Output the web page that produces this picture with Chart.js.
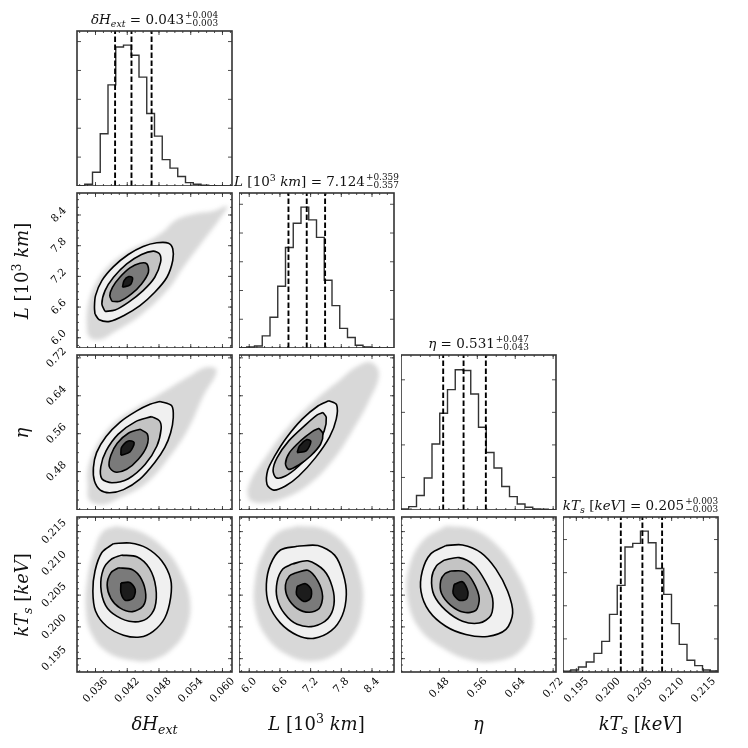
<!DOCTYPE html>
<html>
<head>
<meta charset="utf-8">
<title>corner plot</title>
<script src="https://cdn.jsdelivr.net/npm/chart.js@4.4.1/dist/chart.umd.min.js"></script>
<style>
  body { margin: 0; background: #fff; }
  #wrap { position: relative; width: 748px; height: 748px; overflow: hidden; font-family: "DejaVu Serif", serif; color: #111; }
  #wrap canvas { position: absolute; }
  .cloud { position: absolute; overflow: hidden; }
  .cloud canvas { filter: blur(2.2px); left: 0; top: 0; }
  .txt { position: absolute; white-space: nowrap; transform: translate(-50%, -50%); line-height: 1; }
  .axl { font-size: 18px; }
  .rot { transform: translate(-50%, -50%) rotate(-90deg); }
  .ttl { font-size: 13.5px; transform: translate(-50%, -100%); line-height: 1.15; }
  sub, sup { font-size: 0.7em; line-height: 0; }
  sub { vertical-align: -0.3em; }
  sup { vertical-align: 0.55em; }
  .pm { display: inline-flex; flex-direction: column; font-size: 0.66em; line-height: 0.85; vertical-align: 0.75em; margin-left: 1px; }
</style>
</head>
<body>
<div id="wrap"></div>
<script>
// axis ranges and tick labels: dH_ext, L [10^3 km], eta, kT_s [keV]
const ranges = [[0.0325, 0.0618], [5.80, 8.83], [0.399, 0.726], [0.1929, 0.2173]];
const tickLabels = [
  ['0.036', '0.042', '0.048', '0.054', '0.060'],
  ['6.0', '6.6', '7.2', '7.8', '8.4'],
  ['0.48', '0.56', '0.64', '0.72'],
  ['0.195', '0.200', '0.205', '0.210', '0.215']
];
const minorSteps = [0.0015, 0.15, 0.02, 0.001];

// 1D histograms, 20 bins over each range (relative to peak)
const histDH = [0.002, 0.012, 0.098, 0.371, 0.718, 0.986, 1.0, 0.928, 0.773, 0.514, 0.354, 0.187, 0.127, 0.067, 0.024, 0.012, 0.005, 0.002, 0.001, 0.0];
const histL = [0.002, 0.007, 0.014, 0.086, 0.218, 0.438, 0.713, 0.885, 1.0, 0.909, 0.785, 0.481, 0.301, 0.139, 0.074, 0.019, 0.007, 0.003, 0.001, 0.0];
const histEta = [0.007, 0.024, 0.103, 0.227, 0.468, 0.687, 0.854, 0.995, 0.99, 0.823, 0.587, 0.408, 0.298, 0.167, 0.095, 0.043, 0.019, 0.007, 0.005, 0.002];
const histKT = [0.005, 0.014, 0.035, 0.071, 0.132, 0.217, 0.409, 0.615, 0.887, 0.913, 1.0, 0.917, 0.735, 0.551, 0.343, 0.196, 0.083, 0.045, 0.014, 0.007];
const histTickSteps = [0.205, 0.204, 0.231, 0.235];

// 16/50/84 % quantiles
const quantDH = [0.0397, 0.0428, 0.0466];
const quantL = [6.767, 7.124, 7.483];
const quantEta = [0.488, 0.531, 0.578];
const quantKT = [0.2020, 0.2054, 0.2085];

// 2D panels: extent of the sample cloud and the four contour levels
const cloud_dH_L = [[0.0343,6.333],[0.0348,6.020],[0.0369,5.967],[0.0397,6.124],[0.0444,6.432],[0.0495,6.922],[0.0526,7.379],[0.0564,7.902],[0.0595,8.327],[0.0609,8.569],[0.0583,8.478],[0.0548,8.425],[0.0513,8.308],[0.0487,8.066],[0.0457,7.870],[0.0419,7.674],[0.0381,7.366],[0.0357,6.987],[0.0346,6.647]];
const outer_dH_L = [[0.0359,6.464],[0.0367,6.353],[0.0387,6.320],[0.0413,6.431],[0.0444,6.628],[0.0472,6.889],[0.0495,7.183],[0.0506,7.510],[0.0506,7.739],[0.0498,7.850],[0.0476,7.857],[0.0450,7.785],[0.0422,7.628],[0.0394,7.392],[0.0372,7.118],[0.0360,6.824],[0.0358,6.595]];
const mid_dH_L = [[0.0378,6.516],[0.0397,6.543],[0.0422,6.693],[0.0450,6.922],[0.0472,7.183],[0.0483,7.477],[0.0481,7.641],[0.0469,7.693],[0.0447,7.628],[0.0419,7.445],[0.0394,7.183],[0.0378,6.922],[0.0372,6.660]];
const inner_dH_L = [[0.0391,6.713],[0.0406,6.713],[0.0428,6.856],[0.0447,7.052],[0.0460,7.281],[0.0457,7.445],[0.0444,7.458],[0.0425,7.366],[0.0406,7.183],[0.0392,6.987],[0.0387,6.824]];
const core_dH_L = [[0.0411,6.987],[0.0426,7.039],[0.0430,7.170],[0.0423,7.196],[0.0414,7.118]];

const cloud_dH_eta = [[0.0345,0.4530],[0.0348,0.4199],[0.0372,0.4107],[0.0406,0.4248],[0.0457,0.4566],[0.0501,0.5130],[0.0535,0.5695],[0.0564,0.6400],[0.0589,0.6930],[0.0570,0.7000],[0.0539,0.6824],[0.0507,0.6612],[0.0476,0.6400],[0.0438,0.6153],[0.0400,0.5871],[0.0372,0.5518],[0.0353,0.5130],[0.0345,0.4813]];
const outer_dH_eta = [[0.0482,0.628],[0.0504,0.619],[0.0507,0.594],[0.0502,0.562],[0.0491,0.531],[0.0472,0.499],[0.0444,0.464],[0.0413,0.442],[0.0387,0.4354],[0.0369,0.441],[0.0358,0.460],[0.0356,0.4883],[0.0362,0.520],[0.0380,0.554],[0.0406,0.584],[0.0438,0.608],[0.0463,0.622]];
const mid_dH_eta = [[0.0466,0.596],[0.0481,0.587],[0.0484,0.5695],[0.0476,0.534],[0.0454,0.4954],[0.0422,0.465],[0.0391,0.4566],[0.0372,0.465],[0.0370,0.4904],[0.0380,0.5236],[0.0403,0.559],[0.0435,0.585]];
const inner_dH_eta = [[0.0444,0.5695],[0.0458,0.559],[0.0457,0.534],[0.0441,0.506],[0.0419,0.485],[0.0397,0.479],[0.0386,0.4904],[0.0389,0.5144],[0.0401,0.540],[0.0422,0.561]];
const core_dH_eta = [[0.0408,0.5144],[0.0425,0.5215],[0.0433,0.5413],[0.0422,0.5448],[0.0409,0.5307]];

const cloud_L_eta = [[5.956,0.4389],[6.022,0.4191],[6.316,0.4142],[6.708,0.4248],[7.166,0.4530],[7.623,0.5024],[8.015,0.5659],[8.342,0.6294],[8.538,0.6859],[8.375,0.7106],[8.081,0.7000],[7.754,0.6718],[7.427,0.6436],[7.035,0.6047],[6.643,0.5589],[6.316,0.5095],[6.054,0.4671]];
const outer_L_eta = [[7.558,0.6295],[7.708,0.621],[7.701,0.5906],[7.571,0.5532],[7.296,0.5095],[6.969,0.4707],[6.708,0.4495],[6.479,0.441],[6.348,0.453],[6.361,0.4827],[6.499,0.513],[6.721,0.5504],[7.035,0.5906],[7.349,0.6189]];
const mid_L_eta = [[7.440,0.6047],[7.506,0.5942],[7.466,0.5659],[7.270,0.5271],[6.969,0.4918],[6.708,0.4707],[6.525,0.4671],[6.466,0.4827],[6.545,0.5095],[6.773,0.5448],[7.100,0.5786],[7.329,0.5998]];
const inner_L_eta = [[7.362,0.5716],[7.440,0.5603],[7.394,0.5377],[7.198,0.513],[6.969,0.494],[6.773,0.4848],[6.708,0.4968],[6.786,0.52],[7.002,0.5448],[7.231,0.5645]];
const core_L_eta = [[6.937,0.5201],[7.113,0.5236],[7.205,0.5434],[7.126,0.5476],[6.982,0.5342]];

const cloud_dH_kT = [[0.0400,0.2159],[0.0450,0.2148],[0.0495,0.2119],[0.0523,0.2083],[0.0539,0.2040],[0.0532,0.1998],[0.0507,0.1967],[0.0469,0.1948],[0.0425,0.1948],[0.0381,0.1961],[0.0353,0.1988],[0.0342,0.2025],[0.0345,0.2077],[0.0359,0.2125],[0.0375,0.2151]];
const outer_dH_kT = [[0.0394,0.2131],[0.0425,0.2132],[0.0457,0.2124],[0.0485,0.2104],[0.0502,0.2075],[0.0502,0.2046],[0.0491,0.2014],[0.0469,0.1993],[0.0444,0.1984],[0.0413,0.1987],[0.0381,0.2001],[0.0360,0.2025],[0.0355,0.2056],[0.0359,0.2088],[0.0372,0.2117]];
const mid_dH_kT = [[0.0409,0.2113],[0.0439,0.2110],[0.0462,0.2092],[0.0474,0.2062],[0.0472,0.2030],[0.0457,0.2013],[0.0431,0.2008],[0.0400,0.2017],[0.0379,0.2034],[0.0370,0.2063],[0.0375,0.2091],[0.0389,0.2106]];
const inner_dH_kT = [[0.0403,0.2093],[0.0430,0.2090],[0.0447,0.2075],[0.0455,0.2051],[0.0450,0.2033],[0.0430,0.2024],[0.0406,0.2030],[0.0389,0.2045],[0.0382,0.2066],[0.0389,0.2085]];
const core_dH_kT = [[0.0408,0.2069],[0.0425,0.2070],[0.0435,0.2059],[0.0431,0.2045],[0.0416,0.2042],[0.0408,0.2054]];

const cloud_L_kT = [[6.937,0.2159],[7.460,0.2154],[7.917,0.2125],[8.179,0.2077],[8.212,0.2030],[8.048,0.1988],[7.656,0.1956],[7.198,0.1946],[6.741,0.1956],[6.348,0.1983],[6.120,0.2025],[6.120,0.2077],[6.283,0.2119],[6.545,0.2148]];
const outer_L_kT = [[6.937,0.2127],[7.342,0.2128],[7.669,0.2113],[7.839,0.2083],[7.898,0.2051],[7.819,0.2018],[7.604,0.1994],[7.264,0.1982],[6.937,0.1987],[6.610,0.2006],[6.381,0.2036],[6.335,0.2067],[6.414,0.2098],[6.610,0.2121]];
const mid_L_kT = [[6.839,0.2099],[7.146,0.2104],[7.460,0.2089],[7.623,0.2063],[7.656,0.2035],[7.538,0.2013],[7.264,0.2001],[6.937,0.2004],[6.688,0.2021],[6.545,0.2045],[6.545,0.2071],[6.656,0.2091]];
const inner_L_kT = [[6.904,0.2085],[7.146,0.2089],[7.342,0.2072],[7.434,0.2048],[7.368,0.2029],[7.172,0.2023],[6.937,0.2029],[6.754,0.2046],[6.708,0.2066],[6.786,0.2080]];
const core_L_kT = [[6.937,0.2064],[7.100,0.2068],[7.211,0.2059],[7.198,0.2045],[7.068,0.2040],[6.924,0.2051]];

const cloud_eta_kT = [[0.4934,0.2159],[0.5499,0.2154],[0.5993,0.2130],[0.6416,0.2088],[0.6698,0.2040],[0.6769,0.1998],[0.6487,0.1961],[0.5993,0.1946],[0.5428,0.1948],[0.4864,0.1967],[0.4370,0.1998],[0.4123,0.2046],[0.4158,0.2093],[0.4440,0.2135]];
const outer_eta_kT = [[0.4934,0.2128],[0.5287,0.2129],[0.5675,0.2117],[0.5993,0.2091],[0.6240,0.2056],[0.6346,0.2022],[0.6204,0.1996],[0.5816,0.1985],[0.5358,0.1988],[0.4934,0.2001],[0.4581,0.2025],[0.4412,0.2056],[0.4440,0.2088],[0.4617,0.2115]];
const mid_eta_kT = [[0.4899,0.2105],[0.5217,0.2109],[0.5534,0.2097],[0.5767,0.2072],[0.5922,0.2045],[0.5887,0.2018],[0.5640,0.2006],[0.5287,0.2009],[0.4934,0.2026],[0.4687,0.2050],[0.4638,0.2077],[0.4737,0.2096]];
const inner_eta_kT = [[0.5040,0.2088],[0.5322,0.2087],[0.5513,0.2071],[0.5640,0.2045],[0.5569,0.2026],[0.5322,0.2023],[0.5040,0.2034],[0.4843,0.2053],[0.4828,0.2073],[0.4920,0.2084]];
const core_eta_kT = [[0.5111,0.2067],[0.5287,0.2071],[0.5400,0.2056],[0.5372,0.2044],[0.5217,0.2042],[0.5089,0.2053]];

const titles = [
  '<i>δH</i><sub><i>ext</i></sub> = 0.043<span class="pm"><span>+0.004</span><span>−0.003</span></span>',
  '<i>L</i> [10<sup>3</sup> <i>km</i>] = 7.124<span class="pm"><span>+0.359</span><span>−0.357</span></span>',
  '<i>η</i> = 0.531<span class="pm"><span>+0.047</span><span>−0.043</span></span>',
  '<i>kT</i><sub><i>s</i></sub> [<i>keV</i>] = 0.205<span class="pm"><span>+0.003</span><span>−0.003</span></span>'
];
const axisNames = [
  '<i>δH</i><sub><i>ext</i></sub>',
  '<i>L</i> [10<sup>3</sup> <i>km</i>]',
  '<i>η</i>',
  '<i>kT</i><sub><i>s</i></sub> [<i>keV</i>]'
];

const hists = [histDH, histL, histEta, histKT];
const quants = [quantDH, quantL, quantEta, quantKT];
const pairs = [
  { r: 1, c: 0, cloud: cloud_dH_L, levels: [outer_dH_L, mid_dH_L, inner_dH_L, core_dH_L] },
  { r: 2, c: 0, cloud: cloud_dH_eta, levels: [outer_dH_eta, mid_dH_eta, inner_dH_eta, core_dH_eta] },
  { r: 2, c: 1, cloud: cloud_L_eta, levels: [outer_L_eta, mid_L_eta, inner_L_eta, core_L_eta] },
  { r: 3, c: 0, cloud: cloud_dH_kT, levels: [outer_dH_kT, mid_dH_kT, inner_dH_kT, core_dH_kT] },
  { r: 3, c: 1, cloud: cloud_L_kT, levels: [outer_L_kT, mid_L_kT, inner_L_kT, core_L_kT] },
  { r: 3, c: 2, cloud: cloud_eta_kT, levels: [outer_eta_kT, mid_eta_kT, inner_eta_kT, core_eta_kT] }
];

// layout
const P = 155, STEP = 162, X0 = 77, Y0 = 31, MARGIN = 77, PT = 14, PR = 18;
const shades = ['#f0f0f0', '#c4c4c4', '#7a7a7a', '#1c1c1c'];
const wrap = document.getElementById('wrap');
const px = c => X0 + STEP * c;
const py = r => Y0 + STEP * r;

function tickSet(i) {
  const [lo, hi] = ranges[i];
  const major = tickLabels[i].map(Number);
  const s = minorSteps[i];
  const minor = [];
  for (let v = major[0]; v >= lo; v -= s) minor.push(v);
  for (let v = major[0] + s; v <= hi + 1e-9; v += s) minor.push(v);
  return { major, minor };
}

function histTicks(i) {
  const major = [];
  for (let v = histTickSteps[i]; v < 1.1; v += histTickSteps[i]) major.push(v);
  return { major, minor: [] };
}

const frame = {
  id: 'frame',
  afterDatasetsDraw(chart, args, o) {
    const { ctx, chartArea: a } = chart;
    const xs = chart.scales.x, ys = chart.scales.y;
    const tx = tickSet(o.xi);
    const ty = o.yi >= 0 ? tickSet(o.yi) : histTicks(o.hi);
    const mark = (x1, y1, x2, y2) => { ctx.beginPath(); ctx.moveTo(x1, y1); ctx.lineTo(x2, y2); ctx.stroke(); };
    ctx.save();
    ctx.strokeStyle = '#222';
    ctx.lineWidth = 0.8;
    [[tx.minor, 2], [tx.major, 4]].forEach(([list, len]) => list.forEach(v => {
      const p = xs.getPixelForValue(v);
      mark(p, a.bottom, p, a.bottom - len);
      mark(p, a.top, p, a.top + len);
    }));
    [[ty.minor, 2], [ty.major, 4]].forEach(([list, len]) => list.forEach(v => {
      const p = ys.getPixelForValue(v);
      mark(a.left, p, a.left + len, p);
      mark(a.right, p, a.right - len, p);
    }));
    ctx.lineWidth = 1.6;
    ctx.strokeStyle = '#333';
    ctx.strokeRect(a.left, a.top, a.right - a.left, a.bottom - a.top);

    ctx.font = '10.5px "DejaVu Serif"';
    ctx.fillStyle = '#000';
    ctx.textAlign = 'center';
    ctx.textBaseline = 'middle';
    const ext = t => (ctx.measureText(t).width / 2 + 3.8) * Math.SQRT1_2;
    const put = (t, x, y) => {
      ctx.save(); ctx.translate(x, y); ctx.rotate(-Math.PI / 4); ctx.fillText(t, 0, 0); ctx.restore();
    };
    if (o.showX) tickLabels[o.xi].forEach(t => put(t, xs.getPixelForValue(Number(t)), a.bottom + 5 + ext(t)));
    if (o.showY) tickLabels[o.yi].forEach(t => put(t, a.left - 9.5 - ext(t), ys.getPixelForValue(Number(t))));
    ctx.restore();
  }
};

const closed = pts => pts.concat([pts[0]]).map(([x, y]) => ({ x, y }));

function addCanvas(parent, left, top, w, h) {
  const cv = document.createElement('canvas');
  cv.width = w; cv.height = h;
  Object.assign(cv.style, { left: left + 'px', top: top + 'px', width: w + 'px', height: h + 'px' });
  parent.appendChild(cv);
  return cv;
}

function baseOptions(xi, yi, ml, mb, frameOpts) {
  const xr = ranges[xi];
  const yr = yi >= 0 ? ranges[yi] : [0, 1.1];
  return {
    responsive: false, animation: false, events: [],
    layout: { autoPadding: false, padding: { top: PT, right: PR, left: 0, bottom: 0 } },
    plugins: { legend: { display: false }, tooltip: { enabled: false }, frame: frameOpts },
    scales: {
      x: { type: 'linear', min: xr[0], max: xr[1], grid: { display: false }, border: { display: false },
           ticks: { display: false }, afterFit: s => { s.height = mb; } },
      y: { type: 'linear', min: yr[0], max: yr[1], grid: { display: false }, border: { display: false },
           ticks: { display: false }, afterFit: s => { s.width = ml; } }
    }
  };
}

function mainCanvas(r, c) {
  const ml = c === 0 ? MARGIN : 0, mb = r === 3 ? MARGIN : 0;
  return { ml, mb, cv: addCanvas(wrap, px(c) - ml, py(r) - PT, P + ml + PR, P + mb + PT) };
}

// 2D panels: softened sample cloud underneath
pairs.forEach(({ r, c, cloud }) => {
  const box = document.createElement('div');
  box.className = 'cloud';
  Object.assign(box.style, { left: px(c) + 'px', top: py(r) + 'px', width: P + 'px', height: P + 'px' });
  wrap.appendChild(box);
  const cc = addCanvas(box, 0, 0, P, P);
  new Chart(cc, {
    type: 'scatter',
    data: { datasets: [{ data: closed(cloud), showLine: true, fill: 'shape', backgroundColor: 'rgba(60,60,60,0.2)',
                         borderColor: 'rgba(0,0,0,0)', pointRadius: 0, tension: 0.4 }] },
    options: {
      responsive: false, animation: false, events: [],
      layout: { autoPadding: false, padding: 0 },
      plugins: { legend: { display: false }, tooltip: { enabled: false } },
      scales: {
        x: { display: false, min: ranges[c][0], max: ranges[c][1] },
        y: { display: false, min: ranges[r][0], max: ranges[r][1] }
      }
    }
  });
});

// 2D panels: filled contour levels
pairs.forEach(({ r, c, levels }) => {
  const datasets = levels.map((pts, k) => ({
    data: closed(pts), showLine: true, fill: 'shape', backgroundColor: shades[k],
    borderColor: '#000', borderWidth: 1.6, pointRadius: 0, tension: 0.3, order: 10 - k
  }));
  const { ml, mb, cv } = mainCanvas(r, c);
  new Chart(cv, {
    type: 'scatter', data: { datasets },
    options: baseOptions(c, r, ml, mb, { xi: c, yi: r, hi: -1, showX: r === 3, showY: c === 0 }),
    plugins: [frame]
  });
});

// diagonal histograms
hists.forEach((h, i) => {
  const [lo, hi] = ranges[i];
  const bw = (hi - lo) / h.length;
  const step = [{ x: lo, y: 0 }];
  h.forEach((v, k) => step.push({ x: lo + k * bw, y: v }, { x: lo + (k + 1) * bw, y: v }));
  step.push({ x: hi, y: 0 });
  const datasets = [{ data: step, showLine: true, borderColor: '#333', borderWidth: 1.4, pointRadius: 0, tension: 0, order: 2 }];
  quants[i].forEach(q => datasets.push({
    data: [{ x: q, y: 0 }, { x: q, y: 1.1 }], showLine: true, borderColor: '#000', borderWidth: 1.9,
    borderDash: [5.5, 2.5], pointRadius: 0, order: 1
  }));
  const { ml, mb, cv } = mainCanvas(i, i);
  new Chart(cv, {
    type: 'scatter', data: { datasets },
    options: baseOptions(i, -1, ml, mb, { xi: i, yi: -1, hi: i, showX: i === 3, showY: false }),
    plugins: [frame]
  });
});

// text: titles, axis labels
function addText(html, cls, x, y) {
  const d = document.createElement('div');
  d.className = 'txt ' + cls;
  d.innerHTML = html;
  Object.assign(d.style, { left: x + 'px', top: y + 'px' });
  wrap.appendChild(d);
}
titles.forEach((t, i) => addText(t, 'ttl', px(i) + P / 2, py(i) - 3));
axisNames.forEach((t, i) => addText(t, 'axl', px(i) + P / 2, 724));
axisNames.slice(1).forEach((t, i) => addText(t, 'axl rot', 22, py(i + 1) + P / 2));
</script>
</body>
</html>
